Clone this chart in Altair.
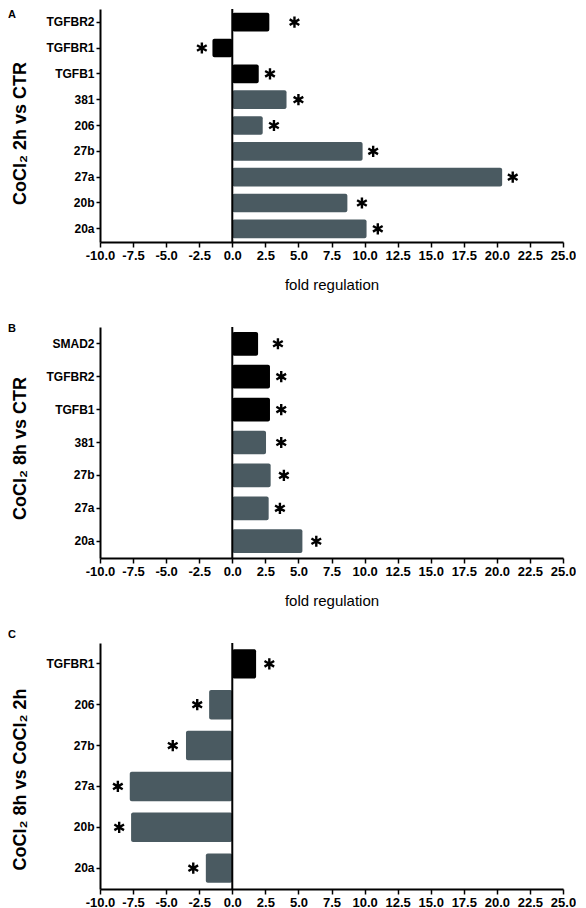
import altair as alt
import pandas as pd

# ---------------- data ----------------
a_cats = ["TGFBR2", "TGFBR1", "TGFB1", "381", "206", "27b", "27a", "20b", "20a"]
a_vals = [2.8, -1.5, 2.0, 4.1, 2.3, 9.85, 20.4, 8.7, 10.15]
a_star = [4.7, -2.3, 2.85, 5.0, 3.15, 10.65, 21.2, 9.8, 11.0]

b_cats = ["SMAD2", "TGFBR2", "TGFB1", "381", "27b", "27a", "20a"]
b_vals = [1.95, 2.85, 2.85, 2.55, 2.9, 2.75, 5.3]
b_star = [3.45, 3.7, 3.7, 3.7, 3.9, 3.6, 6.35]

c_cats = ["TGFBR1", "206", "27b", "27a", "20b", "20a"]
c_vals = [1.8, -1.75, -3.5, -7.75, -7.65, -2.0]
c_star = [2.8, -2.65, -4.5, -8.65, -8.55, -2.95]

x_ticks = [-10.0, -7.5, -5.0, -2.5, 0.0, 2.5, 5.0, 7.5, 10.0, 12.5, 15.0, 17.5, 20.0, 22.5, 25.0]

GRAY = "#4a5a61"
FONT = "Liberation Sans"
STAR = "M0,-1L0,1M-0.866,-0.5L0.866,0.5M-0.866,0.5L0.866,-0.5"


def panel(cats, vals, stars, letter, ytitle, title_y, width, height, letter_y, xtitle):
    grp = ["gene" if (c.startswith("TGF") or c.startswith("SMAD")) else "mir" for c in cats]
    df = pd.DataFrame({"cat": cats, "val": vals, "star": stars, "grp": grp})
    xscale = alt.Scale(domain=[-10, 25], nice=False, zero=False)
    yaxis = alt.Axis(title=ytitle, titleX=-75, titleY=title_y, titleBaseline="alphabetic")
    yenc = alt.Y("cat:N", sort=cats, scale=alt.Scale(paddingInner=0.28, paddingOuter=0.15), axis=yaxis)
    xaxis = alt.Axis(
        values=x_ticks,
        tickCount=15,
        labelExpr="replace(format(datum.value, '.1f'), '\u2212', '-')",
        labelOverlap=False,
        labelFlush=False,
        title=xtitle,
    )
    base = alt.Chart(df)
    bars = base.mark_bar(cornerRadius=2).encode(
        x=alt.X("val:Q", scale=xscale, axis=xaxis),
        x2=alt.datum(0),
        y=yenc,
        color=alt.Color("grp:N", scale=alt.Scale(domain=["gene", "mir"], range=["#000000", GRAY]), legend=None),
    )
    stars_l = base.mark_point(shape=STAR, filled=False, stroke="black", strokeWidth=2.4,
                              size=125, opacity=1).encode(
        x=alt.X("star:Q", scale=xscale, axis=xaxis),
        y=alt.Y("cat:N", sort=cats, axis=yaxis),
    )
    zero = alt.Chart(pd.DataFrame({"z": [0]})).mark_rule(color="black", strokeWidth=2).encode(
        x=alt.X("z:Q", scale=xscale, axis=xaxis)
    )
    lab = alt.Chart(pd.DataFrame({"t": [letter]})).mark_text(
        align="left", baseline="top", fontSize=11, fontWeight="bold", font=FONT, color="black"
    ).encode(x=alt.value(-92), y=alt.value(letter_y), text="t:N")
    return alt.layer(bars, zero, stars_l, lab).properties(width=width, height=height)


pa = panel(a_cats, a_vals, a_star, "A", "CoCl₂ 2h vs CTR", 124, 463, 233, 0, "fold regulation")
pb = panel(b_cats, b_vals, b_star, "B", "CoCl₂ 8h vs CTR", 121, 463, 231, -4, "fold regulation")
pc = panel(c_cats, c_vals, c_star, "C", "CoCl₂ 8h vs CoCl₂ 2h", 136, 463, 246, -14, None)

chart = alt.vconcat(pa, pb, pc, spacing=85, bounds="flush").properties(
    padding=0, background="white"
).configure_view(stroke=None).configure_axis(
    labelFont=FONT, labelFontWeight="bold", labelColor="black", titleFont=FONT, titleColor="black",
    domainColor="black", domainWidth=2, tickColor="black", tickWidth=1.5, grid=False,
    labelOverlap=False,
).configure_axisX(
    labelFontSize=13, tickSize=5, labelPadding=2, titleFontWeight="normal", titleFontSize=15,
    titlePadding=15, labelFlush=False,
).configure_axisY(
    labelFontSize=12, tickSize=4, labelPadding=2, titleFontSize=18, titleFontWeight="bold",
)

chart.save("out.html", embed_options={"renderer": "svg", "actions": False})
